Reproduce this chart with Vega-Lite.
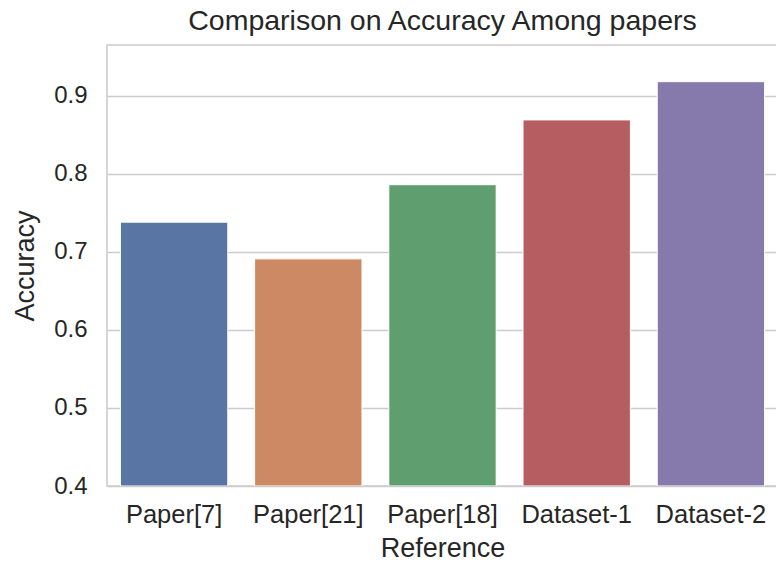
{
  "$schema": "https://vega.github.io/schema/vega-lite/v6.json",
  "autosize": {"type": "none"},
  "padding": {"left": 107, "top": 45, "right": 0, "bottom": 76},
  "width": 671,
  "height": 441,
  "background": "white",
  "config": {
    "font": "Liberation Sans",
    "view": {"stroke": "#cccccc", "strokeWidth": 1.6},
    "axis": {
      "labelFont": "Liberation Sans",
      "titleFont": "Liberation Sans",
      "labelColor": "#262626",
      "titleColor": "#262626",
      "labelFontSize": 24,
      "titleFontSize": 27,
      "titleFontWeight": "normal",
      "domain": false,
      "ticks": false
    }
  },
  "title": {
    "text": "Comparison on Accuracy Among papers",
    "font": "Liberation Sans",
    "fontSize": 28.5,
    "fontWeight": "normal",
    "color": "#262626",
    "anchor": "middle",
    "offset": 10
  },
  "data": {
    "values": [
      {"Reference": "Paper[7]", "Accuracy": 0.738},
      {"Reference": "Paper[21]", "Accuracy": 0.691},
      {"Reference": "Paper[18]", "Accuracy": 0.786},
      {"Reference": "Dataset-1", "Accuracy": 0.869},
      {"Reference": "Dataset-2", "Accuracy": 0.918}
    ]
  },
  "mark": {"type": "bar", "stroke": "white", "strokeWidth": 1, "clip": true},
  "encoding": {
    "x": {
      "field": "Reference",
      "type": "nominal",
      "sort": null,
      "scale": {"paddingInner": 0.2, "paddingOuter": 0.1},
      "axis": {"labelAngle": 0, "labelFontSize": 25.5, "labelPadding": 16, "titlePadding": 8, "grid": false}
    },
    "y": {
      "field": "Accuracy",
      "type": "quantitative",
      "scale": {"domain": [0.4, 0.965], "nice": false, "zero": false},
      "axis": {
        "values": [0.4, 0.5, 0.6, 0.7, 0.8, 0.9],
        "format": ".1f",
        "labelPadding": 20,
        "titlePadding": 14,
        "grid": true,
        "gridColor": "#cccccc",
        "gridWidth": 1.6
      }
    },
    "y2": {"datum": 0.4},
    "color": {
      "field": "Reference",
      "type": "nominal",
      "sort": null,
      "scale": {"range": ["#5975a4", "#cc8963", "#5f9e6e", "#b55d60", "#857aab"]},
      "legend": null
    }
  }
}
